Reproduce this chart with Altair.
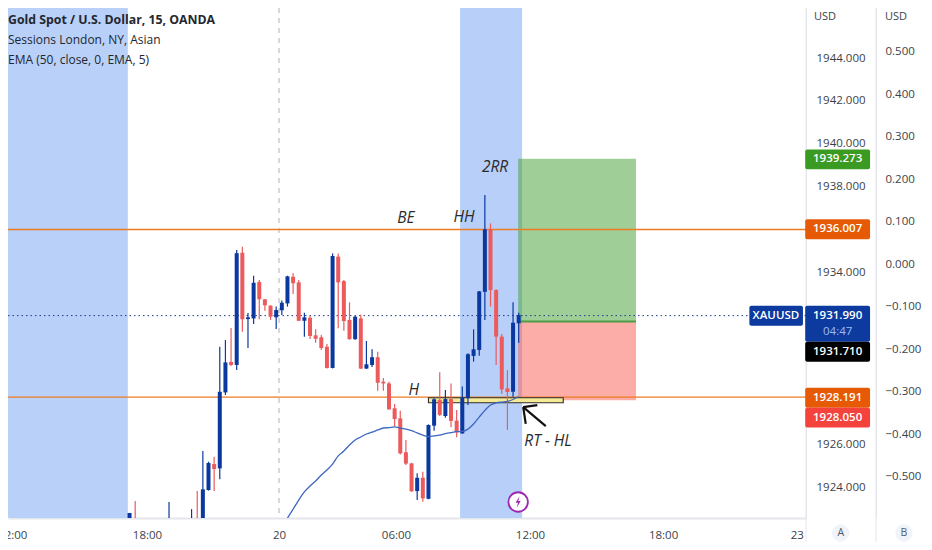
import altair as alt
import pandas as pd

bar_index = [-19,-18,-12,-8,-7,-6,-5,-4,-3,-2,-1] + list(range(0, 51))
bar_color = ["b","r","b","b","r","b","b","r","b","b","r",
             "b","r","b","b","r","r","r","b","b","b","r","r","b","r","r","r","r","b","r","r",
             "r","b","r","b","b","r","r","r","r","r","r","r","b","r","b","b","r","b","r","r",
             "b","b","b","b","b","r","r","r","r","b","b"]
wick_high = [1922.79,1923.35,1923.30,1922.97,1923.81,1925.68,1925.18,1925.41,1930.54,1930.85,1931.41,
             1935.05,1935.20,1932.11,1933.85,1933.65,1932.76,1932.48,1932.41,1932.69,1933.85,1933.96,1933.65,
             1932.12,1931.97,1931.35,1931.09,1930.67,1934.89,1934.89,1933.65,1932.61,1931.97,1932.03,1930.81,
             1930.42,1930.31,1929.08,1928.91,1927.87,1927.56,1926.19,1925.13,1924.64,1924.71,1926.92,1928.14,
             1929.35,1928.52,1928.83,1927.59,1928.68,1930.23,1931.35,1933.14,1937.61,1936.29,1933.22,1931.13,
             1929.45,1932.61,1932.12]
body_high = [1922.79,1922.51,1922.51,1922.51,1922.51,1923.89,1925.12,1925.07,1928.44,1929.81,1929.83,1934.9,1934.92,
             1931.91,1933.52,1933.56,1932.75,1932.45,1932.25,1932.59,1933.82,1933.8,1933.54,1931.91,1931.89,1931.07,
             1930.98,1930.54,1934.77,1934.74,1933.6,1931.79,1931.94,1931.86,1929.72,1930.05,1930.05,1928.91,1928.83,
             1927.67,1927.2,1925.62,1925.1,1924.43,1924.43,1926.89,1928.09,1928.06,1928.1,1928.1,1927.09,1928.16,
             1930.19,1930.42,1933.12,1936.01,1936.01,1933.18,1931.01,1928.6,1931.66,1932.02]
body_low = [1922.55,1922.37,1922.37,1922.37,1922.37,1922.23,1923.86,1924.84,1924.87,1928.41,1929.69,1929.69,1931.82,
            1931.83,1931.86,1932.75,1932.47,1931.94,1931.91,1932.24,1932.56,1933.5,1931.75,1931.75,1931.04,1930.91,
            1930.48,1929.55,1929.55,1933.54,1931.74,1930.89,1930.89,1929.52,1929.52,1929.69,1928.86,1928.83,1927.62,
            1927.17,1925.57,1925.09,1923.8,1923.81,1923.47,1923.45,1926.86,1927.36,1927.31,1927.08,1926.55,1926.5,
            1928.14,1930.11,1930.39,1933.1,1933.18,1931.01,1928.55,1928.43,1928.44,1931.63]
wick_low = [1922.23,1922.18,1922.18,1922.18,1922.18,1922.14,1923.83,1923.81,1924.36,1928.29,1929.64,1929.45,1931.24,
            1930.48,1931.6,1931.82,1932.22,1931.79,1931.37,1932.02,1932.41,1933.0,1931.74,1931.01,1930.9,1930.73,
            1930.39,1929.52,1929.53,1931.4,1931.29,1930.87,1930.87,1929.5,1929.5,1929.59,1928.49,1928.49,1927.6,
            1926.84,1925.52,1925.03,1923.78,1923.39,1923.31,1923.43,1926.62,1927.31,1927.23,1926.78,1926.32,1926.48,
            1927.82,1929.84,1930.12,1931.79,1932.41,1929.69,1928.34,1926.66,1928.21,1930.73]

ema_index = list(range(9, 51))
ema_value = [1922.55,1922.97,1923.39,1923.77,1924.05,1924.28,1924.56,1924.79,1925.07,1925.45,1925.68,1925.96,
             1926.19,1926.33,1926.47,1926.56,1926.66,1926.75,1926.77,1926.8,1926.75,1926.7,1926.63,1926.52,1926.42,
             1926.35,1926.38,1926.42,1926.49,1926.54,1926.58,1926.59,1926.7,1926.94,1927.26,1927.57,1927.82,1927.92,
             1927.96,1927.99,1928.08,1928.22]

time_ticks = [-39.8, -15.9, 7.5, 28.25, 52, 75.6, 99.3]
time_labels = ["12:00", "18:00", "20", "06:00", "12:00", "18:00", "23"]
price_ticks = [1924, 1926, 1934, 1938, 1940, 1942, 1944]
pct_ticks = [-0.5, -0.4, -0.3, -0.2, -0.1, 0.0, 0.1, 0.2, 0.3, 0.4, 0.5]

FONT = "Open Sans"
TXT = "#3b3f4a"
XS = alt.Scale(domain=[-40.55, 100.94], nice=False, zero=False, padding=0)
PS = alt.Scale(domain=[1922.555, 1946.331], nice=False, zero=False)
BS = alt.Scale(domain=[-0.5976, 0.6024], nice=False, zero=False)
CS = alt.Scale(domain=["b", "r"], range=["#0b389f", "#ec5a5c"])

def X(f): return alt.X(f, type="quantitative", scale=XS, title=None)
def Y(f): return alt.Y(f, type="quantitative", scale=PS, axis=None, title=None)

label_map = "{" + ",".join(f"'{p}':'{t}'" for p, t in zip(time_ticks, time_labels)) + "}"
x_axis = alt.Axis(values=time_ticks, labelExpr=f"{label_map}['' + datum.value]", ticks=False, grid=False,
                  labelOverlap=False, labelBound=False, labelFlush=False, labelPadding=11, labelFont=FONT,
                  labelFontSize=11.5, labelColor=TXT, domainColor="#e4e6ec", domainWidth=2)

# sessions
sessions = pd.DataFrame({"a": [-41, 39.6], "b": [-19.3, 50.6], "f": ["#b9d1f9", "#b8d0f9"]})
layers = [
    alt.Chart(sessions).mark_rect().encode(
        x=alt.X("a", type="quantitative", scale=XS, title=None, axis=x_axis), x2="b",
        y=alt.Y(datum=1922.555, type="quantitative", scale=PS, title=None,
                axis=alt.Axis(orient="right", values=price_ticks, format=".3f", ticks=False, grid=False,
                              labelPadding=10, labelFont=FONT, labelFontSize=11.5, labelColor=TXT,
                              domainColor="#e4e6ec", labelBound=False, labelOverlap=False)),
        y2=alt.Y2(datum=1946.331),
        color=alt.Color("f:N", scale=None, legend=None)),
]
# B axis
layers.append(alt.Chart(pd.DataFrame({"v": [0.0]})).mark_rule(opacity=0).encode(
    y=alt.Y("v", type="quantitative", scale=BS, title=None,
            axis=alt.Axis(orient="right", offset=70, values=pct_ticks, format=".3f", ticks=False, grid=False,
                          labelPadding=9, labelFont=FONT, labelFontSize=11.5, labelColor=TXT,
                          domainColor="#e4e6ec", labelBound=False, labelOverlap=False))))
# vertical separators
layers.append(alt.Chart(pd.DataFrame({"x": [100.94, 113.35]})).mark_rule(color="#e4e6ec", strokeWidth=1).encode(
    x=X("x"), y=alt.value(0), y2=alt.value(534)))
# day-break line
layers.append(alt.Chart(pd.DataFrame({"x": [7.5]})).mark_rule(color="#c6c8cc", strokeWidth=1.4, strokeDash=[5, 5]).encode(
    x=X("x"), y=alt.value(0), y2=alt.value(510)))
# position boxes
boxes = pd.DataFrame({"a": [49.9, 49.9], "b": [70.8, 70.8], "t": [1939.3, 1931.71], "l": [1931.71, 1928.05],
                      "f": ["#40a030", "#f95c50"]})
layers.append(alt.Chart(boxes).mark_rect(opacity=0.5).encode(
    x=X("a"), x2="b", y=Y("t"), y2="l", color=alt.Color("f:N", scale=None, legend=None)))
layers.append(alt.Chart(pd.DataFrame({"a": [49.9], "b": [70.8], "p": [1931.71]})).mark_rule(color="#4f9b48", strokeWidth=2).encode(
    x=X("a"), x2="b", y=Y("p")))
# horizontal levels
layers.append(alt.Chart(pd.DataFrame({"p": [1936.007, 1928.191]})).mark_rule(color="#ee7a22", strokeWidth=1.4).encode(y=Y("p")))
layers.append(alt.Chart(pd.DataFrame({"p": [1931.99]})).mark_rule(color="#1b3c8c", strokeWidth=1, strokeDash=[1.5, 3]).encode(y=Y("p")))
# zone
layers.append(alt.Chart(pd.DataFrame({"a": [34], "b": [57.9], "t": [1928.16], "l": [1927.93]})).mark_rect(
    fill="#f6ea96", stroke="#2d2d2d", strokeWidth=1.1).encode(x=X("a"), x2="b", y=Y("t"), y2="l"))
# candles
candles = pd.DataFrame({"i": bar_index, "c": bar_color, "wh": wick_high, "bh": body_high, "bl": body_low, "wl": wick_low})
colr = alt.Color("c:N", scale=CS, legend=None)
layers.append(alt.Chart(candles).mark_rule(strokeWidth=1.2, clip=True).encode(x=X("i"), y=Y("wh"), y2="wl", color=colr))
layers.append(alt.Chart(candles).mark_bar(size=4, orient="vertical", clip=True).encode(x=X("i"), y=Y("bh"), y2="bl", color=colr))
# EMA
layers.append(alt.Chart(pd.DataFrame({"i": ema_index, "v": ema_value})).mark_line(
    color="#3c66bf", strokeWidth=1.3, interpolate="monotone", clip=True).encode(x=X("i"), y=Y("v")))
# annotations
notes = pd.DataFrame({"x": [30.0, 40.3, 45.8, 31.4, 55.2], "p": [1936.54, 1936.59, 1938.92, 1928.52, 1926.14],
                      "t": ["BE", "HH", "2RR", "H", "RT - HL"]})
layers.append(alt.Chart(notes).mark_text(font=FONT, fontSize=15.5, fontStyle="italic", color="#2b2b2b").encode(
    x=X("x"), y=Y("p"), text="t:N"))
arrow = pd.DataFrame({"a": [54.8, 53.3, 51.25], "b": [50.8, 50.8, 50.8],
                      "p": [1926.84, 1927.82, 1926.94], "q": [1927.72, 1927.72, 1927.72]})
layers.append(alt.Chart(arrow).mark_rule(color="#111111", strokeWidth=2.2).encode(x=X("a"), x2="b", y=Y("p"), y2="q"))
# session-break icon
layers.append(alt.Chart(pd.DataFrame({"x": [49.9], "p": [1923.3]})).mark_point(
    filled=True, fill="#ffffff", stroke="#9c27b0", strokeWidth=1.8, size=380, opacity=1).encode(x=X("x"), y=Y("p")))
layers.append(alt.Chart(pd.DataFrame({"x": [49.9], "p": [1923.3]})).mark_point(
    filled=True, color="#9c27b0", opacity=1, size=130,
    shape="M0.25,-1 L-0.45,0.15 L-0.02,0.15 L-0.25,1 L0.45,-0.2 L0.02,-0.2 Z").encode(x=X("x"), y=Y("p")))
# price tags
tags = pd.DataFrame({"a": [100.8]*6 + [90.9], "b": [112.3]*6 + [100.4],
                     "t": [1939.74, 1936.48, 1932.45, 1930.77, 1928.63, 1927.70, 1932.45],
                     "l": [1938.81, 1935.55, 1930.77, 1929.84, 1927.70, 1926.77, 1931.52],
                     "f": ["#3a9a22", "#e65a06", "#0d3a9f", "#000000", "#e65a06", "#f3433c", "#0d3a9f"]})
layers.append(alt.Chart(tags).mark_rect(cornerRadius=2).encode(
    x=X("a"), x2="b", y=Y("t"), y2="l", color=alt.Color("f:N", scale=None, legend=None)))
tag_text = pd.DataFrame({"x": [106.55]*6 + [95.6], "p": [1939.28, 1936.01, 1931.97, 1930.31, 1928.16, 1927.24, 1931.97],
                         "t": ["1939.273", "1936.007", "1931.990", "1931.710", "1928.191", "1928.050", "XAUUSD"]})
layers.append(alt.Chart(tag_text).mark_text(font=FONT, fontSize=11.5, fontWeight=600, color="#ffffff").encode(
    x=X("x"), y=Y("p"), text="t:N"))
layers.append(alt.Chart(pd.DataFrame({"x": [106.55], "p": [1931.23], "t": ["04:47"]})).mark_text(
    font=FONT, fontSize=11.5, color="#9dbcf5", align="center").encode(x=X("x"), y=Y("p"), text="t:N"))
# headers
layers.append(alt.Chart(pd.DataFrame({"x": [104.3, 116.9], "t": ["USD", "USD"]})).mark_text(
    font=FONT, fontSize=11, color=TXT).encode(x=X("x"), y=alt.value(8.5), text="t:N"))
layers.append(alt.Chart(pd.DataFrame({"x": [107.1, 118.3]})).mark_circle(size=300, color="#f0f3fa", opacity=1).encode(
    x=X("x"), y=alt.value(525)))
layers.append(alt.Chart(pd.DataFrame({"x": [107.1, 118.3], "t": ["A", "B"]})).mark_text(
    font=FONT, fontSize=10.5, color="#555a66").encode(x=X("x"), y=alt.value(525), text="t:N"))
for txt, yy, wt, fs in [("Gold Spot / U.S. Dollar, 15, OANDA", 11.5, 700, 12.3), ("Sessions London, NY, Asian", 31.5, 400, 12),
                        ("EMA (50, close, 0, EMA, 5)", 51.5, 400, 12)]:
    layers.append(alt.Chart(pd.DataFrame({"t": [txt]})).mark_text(
        font=FONT, fontSize=fs, fontWeight=wt, color="#23262f", align="left").encode(
        x=alt.value(0), y=alt.value(yy), text="t:N"))

chart = alt.layer(*layers).resolve_scale(y="independent").properties(
    width=798, height=510,
    padding={"left": 0, "top": 0, "right": 118, "bottom": 24},
    autosize=alt.AutoSizeParams(type="none"),
    background="#ffffff",
).configure_view(stroke=None)

chart.save("out.html", embed_options={"renderer": "svg", "actions": False})
